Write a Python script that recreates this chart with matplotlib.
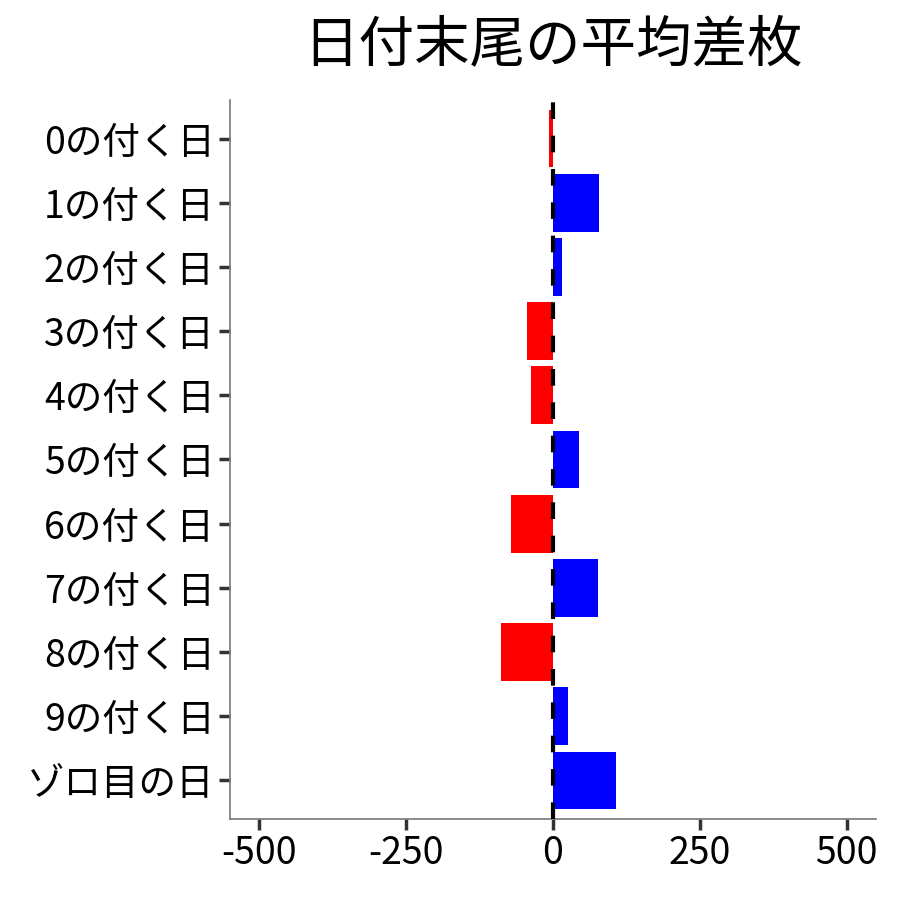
import matplotlib
matplotlib.use("Agg")
import matplotlib.pyplot as plt

plt.rcParams['font.family'] = ['Noto Sans CJK JP', 'DejaVu Sans']

categories = ["0の付く日", "1の付く日", "2の付く日", "3の付く日", "4の付く日",
              "5の付く日", "6の付く日", "7の付く日", "8の付く日", "9の付く日", "ゾロ目の日"]
values = [-7, 78, 15, -44, -37, 45, -71, 76, -88, 25, 108]
xticks = [-500, -250, 0, 250, 500]
xticklabels = ["-500", "-250", "0", "250", "500"]

colors = ["blue" if v > 0 else "red" for v in values]

fig = plt.figure(figsize=(9, 9), dpi=100)
ax = fig.add_axes([230/900, 1-819/900, (876-230)/900, (819-100)/900])

ypos = list(range(len(categories)))
ax.barh(ypos, values, height=0.9, color=colors, zorder=2)
ax.axvline(0, color="black", lw=3, linestyle=(0, (4, 4)), zorder=3)

ax.set_ylim(len(categories) - 0.4, -0.6)
ax.set_xlim(-550, 550)
ax.set_yticks(ypos)
ax.set_yticklabels(categories, fontsize=27)
ax.set_xticks(xticks)
ax.set_xticklabels(xticklabels, fontsize=27)

for s in ["top", "right"]:
    ax.spines[s].set_visible(False)
for s in ["left", "bottom"]:
    ax.spines[s].set_color("#777777")
    ax.spines[s].set_linewidth(1.2)
ax.tick_params(axis="both", length=8, width=2.5, color="#333333", labelcolor="black", pad=3)

fig.text(553/900, 1-45/900, "日付末尾の平均差枚", ha="center", va="center", fontsize=40)

fig.savefig("out.png", dpi=100)
